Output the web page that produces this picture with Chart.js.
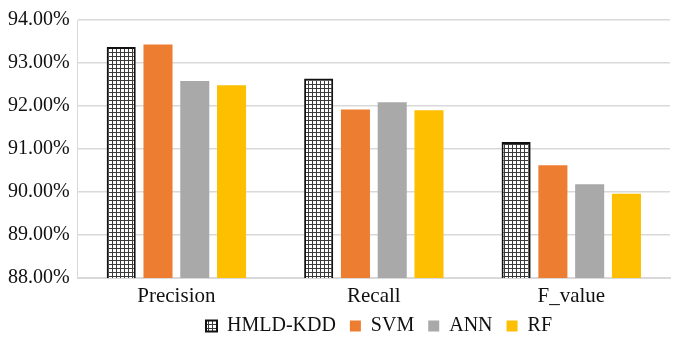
<!DOCTYPE html>
<html>
<head>
<meta charset="utf-8">
<script src="https://cdn.jsdelivr.net/npm/chart.js@4.4.0/dist/chart.umd.min.js"></script>
<style>
  html, body { margin: 0; padding: 0; background: #fff; }
  #wrap { width: 683px; height: 338px; }
</style>
</head>
<body>
<div id="wrap"><canvas id="myChart"></canvas></div>
<script>
// data
var categories = ["Precision", "Recall", "F_value"];
var seriesNames = ["HMLD-KDD", "SVM", "ANN", "RF"];
var hmldValues = [93.37, 92.64, 91.16];
var svmValues = [93.43, 91.92, 90.62];
var annValues = [92.58, 92.09, 90.18];
var rfValues = [92.48, 91.90, 89.96];
var yTicks = [88, 89, 90, 91, 92, 93, 94];

// grid hatch for the HMLD-KDD bars
function makeGrid() {
    var c = document.createElement("canvas");
    c.width = 4; c.height = 4;
    var g = c.getContext("2d");
    g.fillStyle = "#ffffff";
    g.fillRect(0, 0, 4, 4);
    g.fillStyle = "#3a3a3a";
    g.fillRect(0, 0, 4, 1);
    g.fillRect(0, 0, 1, 4);
    return g.createPattern(c, "repeat");
}
var gridFill = makeGrid();

var font = "'Liberation Serif', 'Times New Roman', serif";

// legend keeps wide item spacing but takes less room, then sits under the plot centre
var legendFix = {
    id: 'legendFix',
    beforeInit: function (chart) {
        var fit = chart.legend.fit;
        chart.legend.fit = function () {
            fit.bind(chart.legend)();
            this.height = 8;
        };
    },
    afterLayout: function (chart) {
        chart.legend.top = 302;
        chart.legend.bottom = 338;
        chart.legend.left += 44;
        chart.legend.right += 44;
    }
};

new Chart(document.getElementById("myChart"), {
    type: 'bar',
    data: {
        labels: categories,
        datasets: [
            { label: seriesNames[0], data: hmldValues, backgroundColor: gridFill, borderColor: "#111", borderWidth: 2 },
            { label: seriesNames[1], data: svmValues, backgroundColor: "#ed7d31", borderWidth: 0 },
            { label: seriesNames[2], data: annValues, backgroundColor: "#a9a9a9", borderWidth: 0 },
            { label: seriesNames[3], data: rfValues, backgroundColor: "#fdbf00", borderWidth: 0 }
        ]
    },
    plugins: [legendFix],
    options: {
        responsive: true,
        maintainAspectRatio: false,
        animation: false,
        layout: { padding: { top: 1, right: 13, left: 0, bottom: 0 } },
        datasets: { bar: { categoryPercentage: 0.745, barPercentage: 0.79 } },
        plugins: {
            tooltip: { enabled: false },
            legend: {
                position: 'bottom',
                labels: {
                    font: { family: font, size: 20 },
                    color: "#111",
                    boxWidth: 11,
                    boxHeight: 11,
                    padding: 14
                }
            }
        },
        scales: {
            x: {
                grid: { display: false, drawTicks: false },
                border: { color: "#d9d9d9", width: 2 },
                ticks: { font: { family: font, size: 21 }, color: "#111", padding: 6 },
                afterFit: function (scale) { scale.height = 52; }
            },
            y: {
                min: yTicks[0],
                max: yTicks[yTicks.length - 1],
                afterBuildTicks: function (axis) {
                    axis.ticks = yTicks.map(function (v) { return { value: v }; });
                },
                grid: { color: "#d9d9d9", lineWidth: 1.5, drawTicks: false },
                border: { color: "#d9d9d9", width: 1 },
                ticks: {
                    font: { family: font, size: 20 },
                    color: "#111",
                    padding: 8,
                    callback: function (v) { return v.toFixed(2) + "%"; }
                }
            }
        }
    }
});
</script>
</body>
</html>
